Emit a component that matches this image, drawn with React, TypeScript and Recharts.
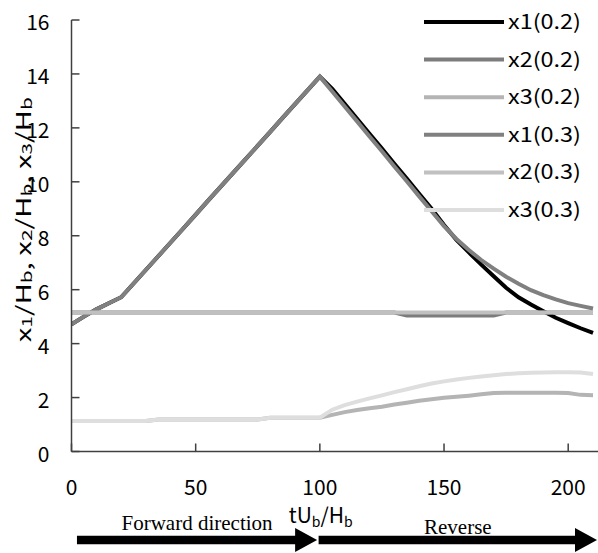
import { Label, Legend, Line, LineChart, ReferenceLine, XAxis, YAxis } from 'recharts';

// tU_b/H_b sample points
const T = [
  0, 5, 10, 15, 20, 25, 30, 35, 40, 45, 50, 55, 60, 65, 70, 75, 80, 85, 90, 95, 100,
  105, 110, 115, 120, 125, 130, 135, 140, 145, 150, 155, 160, 165, 170, 175, 180, 185, 190, 195, 200, 205, 210,
];

const X1_02 = [
  4.72, 5.0, 5.27, 5.5, 5.72, 6.23, 6.74, 7.25, 7.76, 8.27, 8.78, 9.3, 9.81, 10.32, 10.83, 11.34, 11.85, 12.37, 12.88, 13.39, 13.9,
  13.45, 12.89, 12.34, 11.78, 11.23, 10.67, 10.12, 9.56, 9.0, 8.4, 7.85, 7.38, 6.93, 6.5, 6.07, 5.72, 5.45, 5.2, 4.96, 4.76, 4.57, 4.4,
];
const X2_02 = [
  5.15, 5.15, 5.15, 5.15, 5.15, 5.15, 5.15, 5.15, 5.15, 5.15, 5.15, 5.15, 5.15, 5.15, 5.15, 5.15, 5.15, 5.15, 5.15, 5.15, 5.15,
  5.15, 5.15, 5.15, 5.15, 5.15, 5.15, 5.04, 5.04, 5.04, 5.04, 5.04, 5.04, 5.04, 5.04, 5.15, 5.15, 5.15, 5.15, 5.15, 5.15, 5.15, 5.15,
];
const X3_02 = [
  1.13, 1.13, 1.13, 1.13, 1.13, 1.13, 1.13, 1.19, 1.19, 1.19, 1.19, 1.19, 1.19, 1.19, 1.19, 1.19, 1.25, 1.25, 1.25, 1.25, 1.25,
  1.36, 1.46, 1.54, 1.6, 1.66, 1.74, 1.81, 1.88, 1.94, 1.99, 2.03, 2.07, 2.12, 2.17, 2.18, 2.18, 2.18, 2.18, 2.18, 2.17, 2.1, 2.09,
];
const X1_03 = [
  4.72, 5.0, 5.27, 5.5, 5.72, 6.23, 6.74, 7.25, 7.76, 8.27, 8.78, 9.3, 9.81, 10.32, 10.83, 11.34, 11.85, 12.37, 12.88, 13.39, 13.9,
  13.35, 12.79, 12.24, 11.68, 11.13, 10.57, 10.02, 9.46, 8.91, 8.36, 7.88, 7.47, 7.1, 6.78, 6.48, 6.22, 5.98, 5.8, 5.64, 5.5, 5.4, 5.3,
];
const X2_03 = [
  5.15, 5.15, 5.15, 5.15, 5.15, 5.15, 5.15, 5.15, 5.15, 5.15, 5.15, 5.15, 5.15, 5.15, 5.15, 5.15, 5.15, 5.15, 5.15, 5.15, 5.15,
  5.15, 5.15, 5.15, 5.15, 5.15, 5.15, 5.15, 5.15, 5.15, 5.15, 5.15, 5.15, 5.15, 5.15, 5.15, 5.15, 5.15, 5.15, 5.15, 5.15, 5.15, 5.15,
];
const X3_03 = [
  1.13, 1.13, 1.13, 1.13, 1.13, 1.13, 1.13, 1.19, 1.19, 1.19, 1.19, 1.19, 1.19, 1.19, 1.19, 1.19, 1.25, 1.25, 1.25, 1.25, 1.25,
  1.55, 1.72, 1.85, 1.97, 2.08, 2.2, 2.31, 2.42, 2.52, 2.6, 2.67, 2.73, 2.78, 2.83, 2.87, 2.9, 2.92, 2.93, 2.94, 2.94, 2.93, 2.87,
];

const X_TICKS = [0, 50, 100, 150, 200];
const Y_TICKS = [0, 2, 4, 6, 8, 10, 12, 14, 16];

const SERIES = [
  { key: 'x1_02', name: 'x1(0.2)', values: X1_02, color: '#000000' },
  { key: 'x2_02', name: 'x2(0.2)', values: X2_02, color: '#7c7c7c' },
  { key: 'x3_02', name: 'x3(0.2)', values: X3_02, color: '#b4b4b4' },
  { key: 'x1_03', name: 'x1(0.3)', values: X1_03, color: '#808080' },
  { key: 'x2_03', name: 'x2(0.3)', values: X2_03, color: '#c0c0c0' },
  { key: 'x3_03', name: 'x3(0.3)', values: X3_03, color: '#dedede' },
];

const data = T.map((t, i) => {
  const row: Record<string, number> = { t };
  SERIES.forEach(s => {
    row[s.key] = s.values[i];
  });
  return row;
});

const SANS = '"Noto Sans CJK JP", "Noto Sans", sans-serif';
const SERIF = '"Liberation Serif", "Times New Roman", serif';
const AXIS = '#404040';

function XTick({ x, y, payload }: any) {
  return (
    <g>
      <line x1={x} x2={x} y1={y} y2={y - 8} stroke={AXIS} strokeWidth={1.5} />
      <text x={x} y={y + 43} textAnchor="middle" fontSize={21} fontFamily={SANS} fill="#000">
        {payload.value}
      </text>
    </g>
  );
}

function YTick({ x, y, payload }: any) {
  return (
    <g>
      <line x1={x} x2={x + 8} y1={y} y2={y} stroke={AXIS} strokeWidth={1.5} />
      <text x={x - 22} y={y + 10} textAnchor="end" fontSize={21} fontFamily={SANS} fill="#000">
        {payload.value}
      </text>
    </g>
  );
}

function YLabel({ viewBox }: any) {
  const cx = viewBox.x + 22;
  const cy = viewBox.y + viewBox.height / 2 - 16;
  const part = (n: string, comma: boolean) => (
    <>
      <tspan>x</tspan>
      <tspan dy={4} fontSize={14}>{n}</tspan>
      <tspan dy={-4}>/H</tspan>
      <tspan dy={4} fontSize={14}>b</tspan>
      <tspan dy={-4}>{comma ? ', ' : ''}</tspan>
    </>
  );
  return (
    <text
      x={cx}
      y={cy}
      transform={`rotate(-90 ${cx} ${cy})`}
      textAnchor="middle"
      dominantBaseline="central"
      fontSize={20}
      fontFamily={SANS}
      textLength={245}
      lengthAdjust="spacingAndGlyphs"
      fill="#000"
    >
      {part('1', true)}
      {part('2', true)}
      {part('3', false)}
    </text>
  );
}

function XLabel({ viewBox }: any) {
  const cx = viewBox.x + viewBox.width / 2 - 14;
  const by = viewBox.y + 71;
  return (
    <text x={cx} y={by} textAnchor="middle" fontSize={21} fontFamily={SANS} fill="#000">
      <tspan>tU</tspan>
      <tspan dy={4} fontSize={14}>b</tspan>
      <tspan dy={-4}>/H</tspan>
      <tspan dy={4} fontSize={14}>b</tspan>
    </text>
  );
}

function arrowShape(text: string, textLift: number) {
  return (props: any) => {
    const { x1, y1, x2 } = props;
    const half = 4.3;
    const headLen = 22;
    const headHalf = 12;
    const hb = x2 - headLen;
    const pts = [
      [x1, y1 - half],
      [hb, y1 - half],
      [hb, y1 - headHalf],
      [x2, y1],
      [hb, y1 + headHalf],
      [hb, y1 + half],
      [x1, y1 + half],
    ]
      .map(p => p.join(','))
      .join(' ');
    return (
      <g>
        <polygon points={pts} fill="#000" />
        <text x={(x1 + x2) / 2} y={y1 - textLift} textAnchor="middle" fontSize={21} fontFamily={SERIF} fill="#000">
          {text}
        </text>
      </g>
    );
  };
}

function LegendBox() {
  return (
    <svg width={178} height={230} style={{ display: 'block' }}>
      {SERIES.map((s, i) => {
        const y = 22 + i * 37.6;
        return (
          <g key={s.key}>
            <line x1={4} x2={84} y1={y} y2={y} stroke={s.color} strokeWidth={4} />
            <text x={88} y={y + 7} fontSize={20} fontFamily={SANS} textLength={73} lengthAdjust="spacingAndGlyphs" fill="#000">
              {s.name}
            </text>
          </g>
        );
      })}
    </svg>
  );
}

export default function App() {
  return (
    <div style={{ position: 'absolute', left: 0, top: 0, width: 598, height: 553, background: '#fff' }}>
      <LineChart width={598} height={553} data={data} margin={{ top: 20, right: 0, bottom: 61.5, left: 0 }}>
        <XAxis
          dataKey="t"
          type="number"
          domain={[0, 212]}
          ticks={X_TICKS}
          tick={<XTick />}
          tickSize={0}
          tickMargin={0}
          tickLine={false}
          height={40}
          axisLine={{ stroke: AXIS, strokeWidth: 1.5 }}
          allowDataOverflow
        >
          <Label content={<XLabel />} />
        </XAxis>
        <YAxis
          type="number"
          domain={[0, 16]}
          ticks={Y_TICKS}
          tick={<YTick />}
          tickSize={0}
          tickMargin={0}
          tickLine={false}
          width={71.5}
          axisLine={{ stroke: AXIS, strokeWidth: 1.5 }}
          allowDataOverflow
        >
          <Label content={<YLabel />} />
        </YAxis>
        {SERIES.map(s => (
          <Line
            key={s.key}
            type="linear"
            dataKey={s.key}
            name={s.name}
            stroke={s.color}
            strokeWidth={4}
            dot={false}
            activeDot={false}
            isAnimationActive={false}
          />
        ))}
        <ReferenceLine
          segment={[{ x: 2.2, y: -3.28 }, { x: 98.9, y: -3.28 }]}
          ifOverflow="visible"
          shape={arrowShape('Forward direction', 9.5)}
        />
        <ReferenceLine
          segment={[{ x: 99.5, y: -3.28 }, { x: 211.6, y: -3.28 }]}
          ifOverflow="visible"
          shape={arrowShape('Reverse', 6)}
        />
        <Legend
          layout="vertical"
          align="center"
          verticalAlign="middle"
          content={() => <LegendBox />}
          wrapperStyle={{ left: 420, top: 0, width: 178, height: 230 }}
        />
      </LineChart>
    </div>
  );
}
